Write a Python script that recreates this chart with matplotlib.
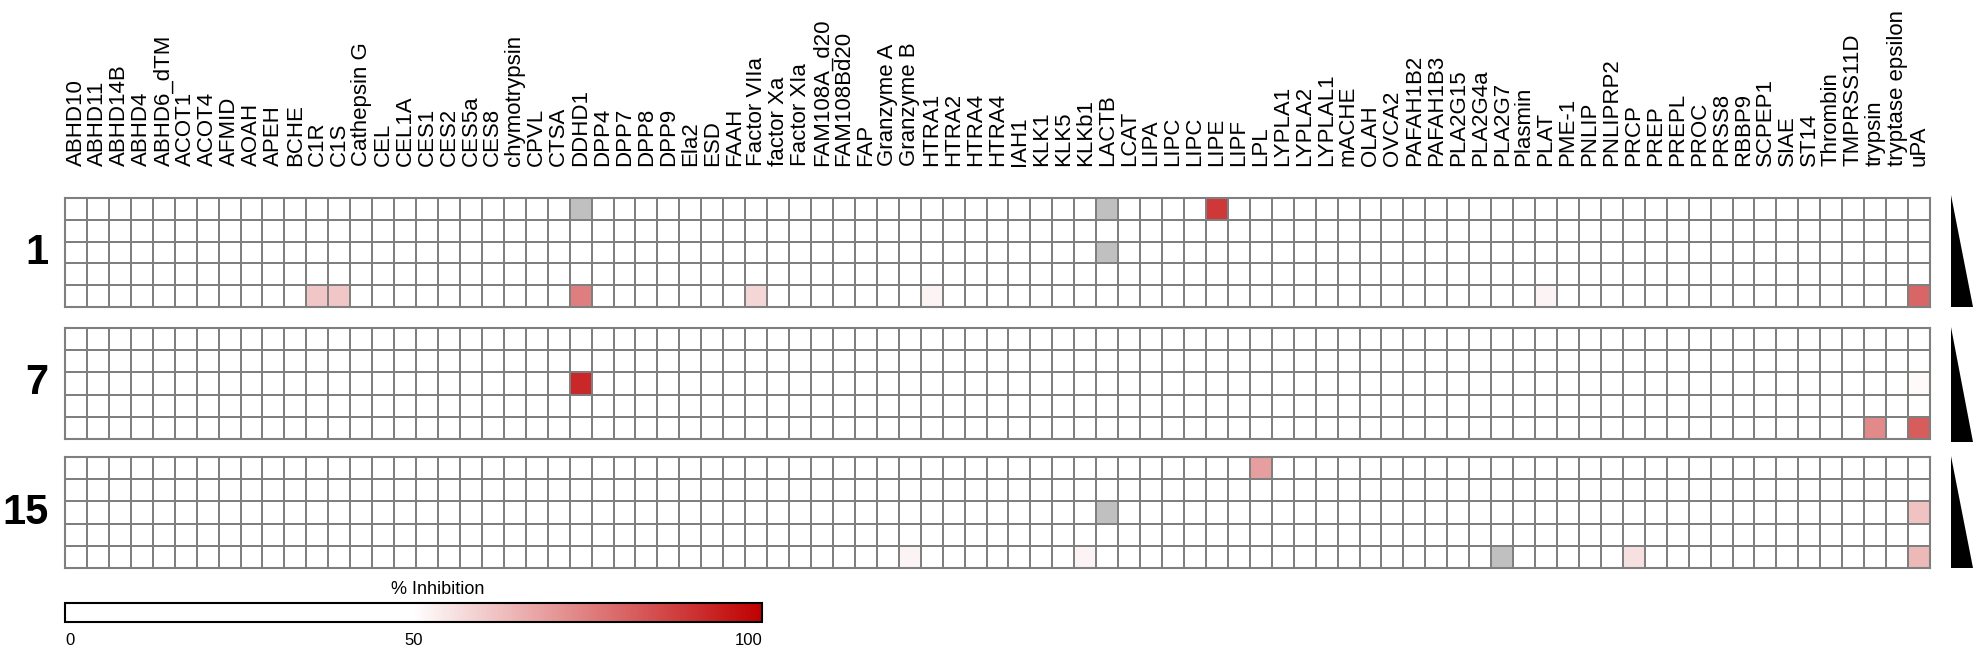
import numpy as np
import matplotlib
matplotlib.use('Agg')
import matplotlib.pyplot as plt
from matplotlib.colors import LinearSegmentedColormap

plt.rcParams['font.family'] = ['Liberation Sans', 'DejaVu Sans']

# enzymes across the top (column order of the grid)
ENZYMES = ['ABHD10', 'ABHD11', 'ABHD14B', 'ABHD4', 'ABHD6_dTM', 'ACOT1', 'ACOT4',
           'AFMID', 'AOAH', 'APEH', 'BCHE', 'C1R', 'C1S', 'Cathepsin G', 'CEL',
           'CEL1A', 'CES1', 'CES2', 'CES5a', 'CES8', 'chymotrypsin', 'CPVL', 'CTSA',
           'DDHD1', 'DPP4', 'DPP7', 'DPP8', 'DPP9', 'Ela2', 'ESD', 'FAAH',
           'Factor VIIa', 'factor Xa', 'Factor XIa', 'FAM108A_d20', 'FAM108Bd20',
           'FAP', 'Granzyme A', 'Granzyme B', 'HTRA1', 'HTRA2', 'HTRA4', 'HTRA4',
           'IAH1', 'KLK1', 'KLK5', 'KLKb1', 'LACTB', 'LCAT', 'LIPA', 'LIPC', 'LIPC',
           'LIPE', 'LIPF', 'LPL', 'LYPLA1', 'LYPLA2', 'LYPLAL1', 'mACHE', 'OLAH',
           'OVCA2', 'PAFAH1B2', 'PAFAH1B3', 'PLA2G15', 'PLA2G4a', 'PLA2G7',
           'Plasmin', 'PLAT', 'PME-1', 'PNLIP', 'PNLIPRP2', 'PRCP', 'PREP', 'PREPL',
           'PROC', 'PRSS8', 'RBBP9', 'SCPEP1', 'SIAE', 'ST14', 'Thrombin',
           'TMPRSS11D', 'trypsin', 'tryptase epsilon', 'uPA']

PANELS = ['1', '7', '15']   # one block of rows per panel
N_CONC = 5                  # concentration rows per panel (high -> low)

# cells with inhibition above background (everything else ~0 %)
HIT_PANEL = [0, 0, 0, 0, 0, 0, 0, 0,
             1, 1, 1, 1,
             2, 2, 2, 2, 2, 2]
HIT_ROW = [0, 4, 4, 4, 4, 4, 4, 4,
           2, 2, 4, 4,
           0, 2, 4, 4, 4, 4]
HIT_ENZYME = ['LIPE', 'C1R', 'C1S', 'DDHD1', 'Factor VIIa', 'HTRA1', 'PLAT', 'uPA',
              'DDHD1', 'uPA', 'trypsin', 'uPA',
              'LPL', 'uPA', 'Granzyme B', 'KLKb1', 'PRCP', 'uPA']
HIT_VALUE = [89, 61, 61, 75, 58, 52, 52, 80,
             92, 51, 73, 82,
             69, 62, 52, 52, 56, 64]

# not measured (grey)
NA_PANEL = [0, 0, 0, 2, 2]
NA_ROW = [0, 0, 2, 2, 4]
NA_ENZYME = ['DDHD1', 'LACTB', 'LACTB', 'LACTB', 'PLA2G7']

W, H = 1980, 648
GRID = '#7f7f7f'

cmap = LinearSegmentedColormap.from_list(
    'inhibition', [(0.0, '#ffffff'), (0.5, '#ffffff'), (1.0, '#c00000')])
cmap.set_bad('#c0c0c0')


def build_panel(p):
    data = np.zeros((N_CONC, len(ENZYMES)))
    mask = np.zeros_like(data, dtype=bool)
    for pp, r, e, v in zip(HIT_PANEL, HIT_ROW, HIT_ENZYME, HIT_VALUE):
        if pp == p:
            data[r, ENZYMES.index(e)] = v
    for pp, r, e in zip(NA_PANEL, NA_ROW, NA_ENZYME):
        if pp == p:
            mask[r, ENZYMES.index(e)] = True
    return np.ma.masked_array(data, mask)


fig = plt.figure(figsize=(W / 100, H / 100), dpi=100)


def px_axes(x0, y0, x1, y1):
    return fig.add_axes([x0 / W, 1 - y1 / H, (x1 - x0) / W, (y1 - y0) / H])


panel_box = [(198, 307), (328, 439), (457, 568)]
wedge_box = [(195, 307), (327, 442), (456, 568)]

mesh = None
for p, label in enumerate(PANELS):
    y0, y1 = panel_box[p]
    ax = px_axes(65, y0, 1930, y1)
    ax.set_facecolor('#c0c0c0')
    mesh = ax.pcolormesh(np.arange(len(ENZYMES) + 1), np.arange(N_CONC + 1),
                         build_panel(p), cmap=cmap, vmin=0, vmax=100,
                         edgecolors=GRID, linewidth=1.3)
    ax.set_xlim(0, len(ENZYMES))
    ax.set_ylim(N_CONC, 0)
    for s in ax.spines.values():
        s.set_color(GRID)
        s.set_linewidth(1.5)
    ax.set_yticks([])
    if p == 0:
        ax.xaxis.set_ticks_position('top')
        ax.set_xticks(np.arange(len(ENZYMES)) + 0.5)
        ax.set_xticklabels(ENZYMES, rotation=90, fontsize=16)
        ax.tick_params(axis='x', length=0, pad=23)
    else:
        ax.set_xticks([])
    ax.text(-0.009, 0.5, label, transform=ax.transAxes, ha='right', va='center',
            fontsize=30, fontweight='bold')

    # concentration wedge
    wy0, wy1 = wedge_box[p]
    wax = px_axes(1951, wy0, 1973, wy1)
    wax.fill([0, 0, 1], [1, 0, 0], color='black', lw=0)
    wax.set_xlim(0, 1)
    wax.set_ylim(0, 1)
    wax.axis('off')

# colour bar
cax = px_axes(65, 603, 762, 622)
cb = fig.colorbar(mesh, cax=cax, orientation='horizontal', ticks=[0, 50, 100])
cb.outline.set_edgecolor('black')
cb.outline.set_linewidth(1.5)
cax.tick_params(length=0, labelsize=12, pad=8)
labels = cax.get_xticklabels()
labels[0].set_ha('left')
labels[-1].set_ha('right')
cax.text(0.535, 1.25, '% Inhibition', transform=cax.transAxes, ha='center',
         va='bottom', fontsize=13)

fig.savefig('out.png', dpi=100)
